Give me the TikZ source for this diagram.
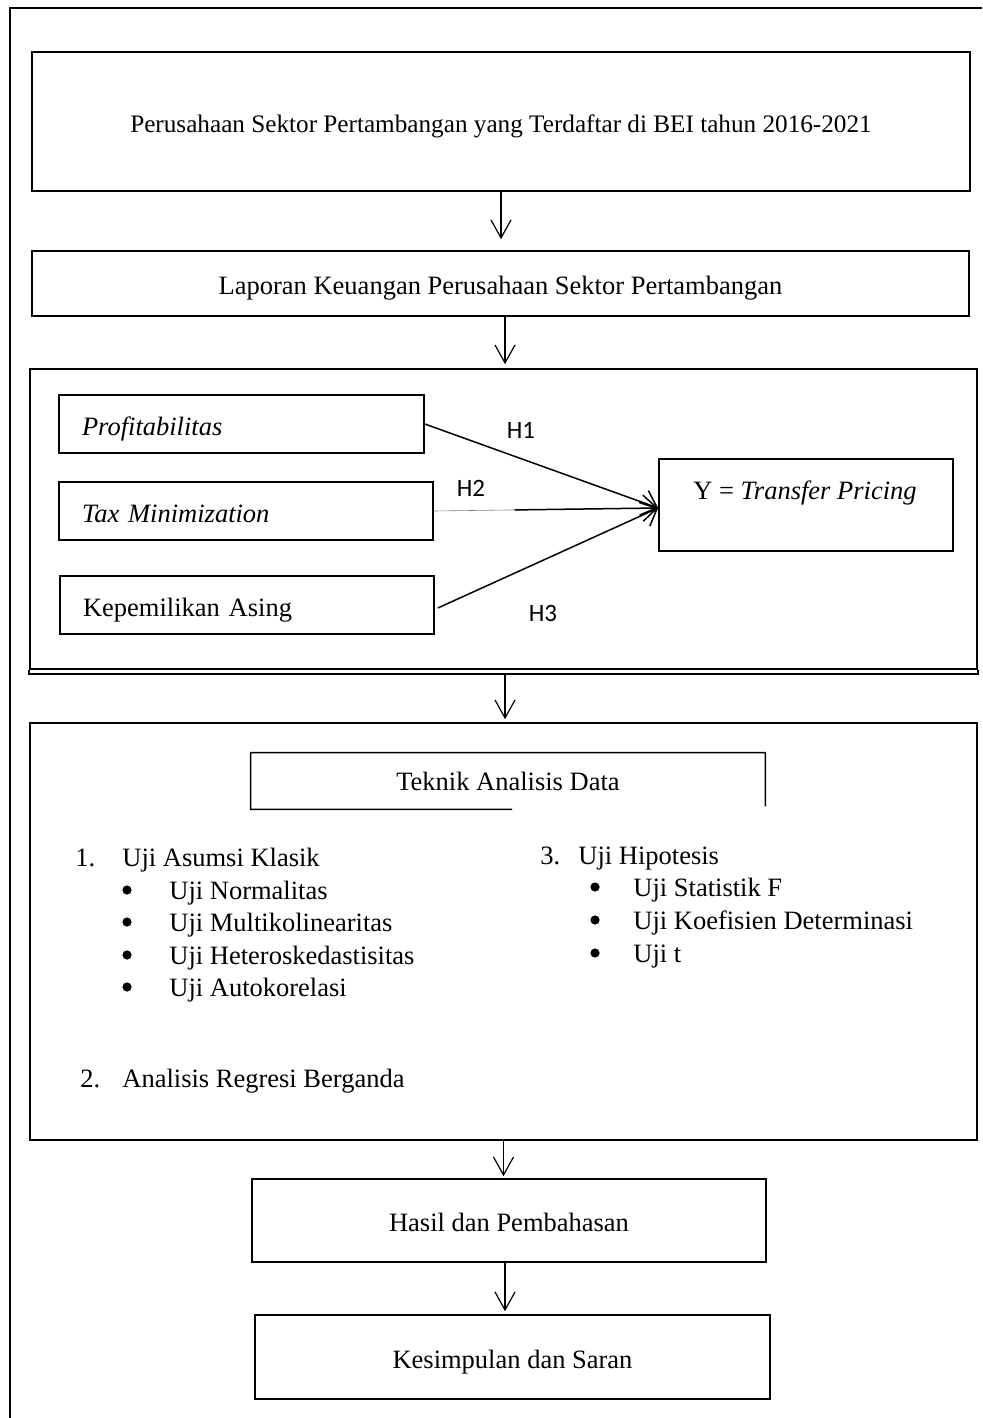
\documentclass[tikz,border=0pt]{standalone}
\usepackage{fontspec}
\setmainfont{Liberation Serif}
\newfontfamily\hfont{Carlito}
\usetikzlibrary{arrows.meta,calc}
\begin{document}
\begin{tikzpicture}[x=0.5pt,y=-0.5pt,
 every node/.style={font=\fontsize{13.25pt}{16pt}\selectfont, inner sep=0pt},
 box/.style={draw, line width=0.8pt, text height=11pt, text depth=0pt},
 arr/.style={line width=0.6pt, -{Straight Barb[length=9pt,width=10pt]}},
 harr/.style={line width=0.75pt, -{Straight Barb[length=7pt,width=13pt]}},
 hlab/.style={font=\hfont\fontsize{12.5pt}{15pt}\selectfont},
 li/.style={anchor=base west},
 bul/.style={circle, fill, minimum size=4.6pt},
]
\useasboundingbox (0,0) rectangle (982,1418);
\coordinate (fr1) at (982,8);
\coordinate (fr2) at (10,8);
\coordinate (fr3) at (10,1418);
\draw[line width=0.8pt] (fr1) -- (fr2) -- (fr3);

\node[box, minimum width=469pt, minimum height=69.5pt, font=\fontsize{12.6pt}{15pt}\selectfont] (b1) at (501,121.5)
  {Perusahaan Sektor Pertambangan yang Terdaftar di BEI tahun 2016-2021};
\node[box, minimum width=468.5pt, minimum height=32.5pt] (b2) at (500.5,283.5)
  {Laporan Keuangan Perusahaan Sektor Pertambangan};

% model box
\node[box, minimum width=473.5pt, minimum height=150pt] (model) at (503.5,519) {};
\draw[line width=0.8pt] (model.south west) -- ([yshift=-2pt]model.south west) -- ([yshift=-2pt]model.south east) -- (model.south east);
\coordinate (mb) at ([yshift=-2pt,xshift=0.75pt]model.south);

\node[box, minimum width=182.5pt, minimum height=29pt, text width=159.5pt, align=left, inner xsep=11.5pt] (p1) at (241.5,424) {\textit{Profitabilitas}};
\node[box, minimum width=187pt, minimum height=29pt, text width=164pt, align=left, inner xsep=11.5pt] (p2) at (246,511) {\textit{Tax Minimization}};
\node[box, minimum width=187pt, minimum height=29pt, text width=164pt, align=left, inner xsep=11.5pt] (p3) at (247,605) {Kepemilikan Asing};

\node[box, minimum width=147pt, minimum height=46pt] (yb) at (806,505) {};
\node (yt) at (805,493) {Y = \textit{Transfer Pricing}};
\coordinate (tip) at ([yshift=-1.5pt]yb.west);

\draw[harr] (p1.east) -- (tip);
\draw[line width=0.3pt, gray] (p2.east) -- (tip);
\draw[harr] ($(p2.east)!0.36!(tip)$) -- (tip);
\draw[harr] ([xshift=1.5pt,yshift=-1.5pt]p3.east) -- (tip);

\node[hlab] (h1) at (521,430) {H1};
\node[hlab] (h2) at (471,488) {H2};
\node[hlab] (h3) at (543,613) {H3};

% analysis box
\node[box, minimum width=473.5pt, minimum height=208.5pt] (tek) at (503.5,931.5) {};
\node[minimum width=257pt, minimum height=28pt] (tk) at (508,781) {Teknik Analisis Data};
\draw[line width=0.8pt] ($(tk.south west)!0.508!(tk.south east)$) -- (tk.south west) -- (tk.north west) -- (tk.north east) -- ([yshift=1.5pt]tk.south east);

\node[li] (n1) at (75,866) {1.};
\node[li] (t1) at (122,866) {Uji Asumsi Klasik};
\node[bul] (u1) at (127,890) {};
\node[bul] (u2) at (127,922) {};
\node[bul] (u3) at (127,955) {};
\node[bul] (u4) at (127,987) {};
\node[li] (v1) at (169,899) {Uji Normalitas};
\node[li] (v2) at (169,931) {Uji Multikolinearitas};
\node[li] (v3) at (169,964) {Uji Heteroskedastisitas};
\node[li] (v4) at (169,996) {Uji Autokorelasi};
\node[li] (n2) at (80,1087) {2.};
\node[li] (t2) at (122,1087) {Analisis Regresi Berganda};

\node[li] (n3) at (540,864) {3.};
\node[li] (t3) at (578,864) {Uji Hipotesis};
\node[bul] (w1) at (595,887) {};
\node[bul] (w2) at (595,920) {};
\node[bul] (w3) at (595,953) {};
\node[li] (x1) at (633,896) {Uji Statistik F};
\node[li] (x2) at (633,929) {Uji Koefisien Determinasi};
\node[li] (x3) at (633,962) {Uji t};

\node[box, minimum width=257pt, minimum height=41.5pt] (hs) at (509,1220.5) {Hasil dan Pembahasan};
\node[box, minimum width=257.5pt, minimum height=42pt] (ks) at (512.5,1357) {Kesimpulan dan Saran};

% vertical arrows
\draw[arr, shorten >=5.5pt] (b1.south) -- (b1.south |- b2.north);
\coordinate (a2s) at ([xshift=2.25pt]b2.south);
\draw[arr, shorten >=2pt] (a2s) -- (a2s |- model.north);
\draw[arr, shorten >=1.5pt] (mb) -- (mb |- tek.north);
\draw[arr, shorten >=1pt] (tek.south) -- (tek.south |- hs.north);
\coordinate (a5s) at ([xshift=-2pt]hs.south);
\draw[arr, shorten >=1.5pt] (a5s) -- (a5s |- ks.north);
\end{tikzpicture}
\end{document}
